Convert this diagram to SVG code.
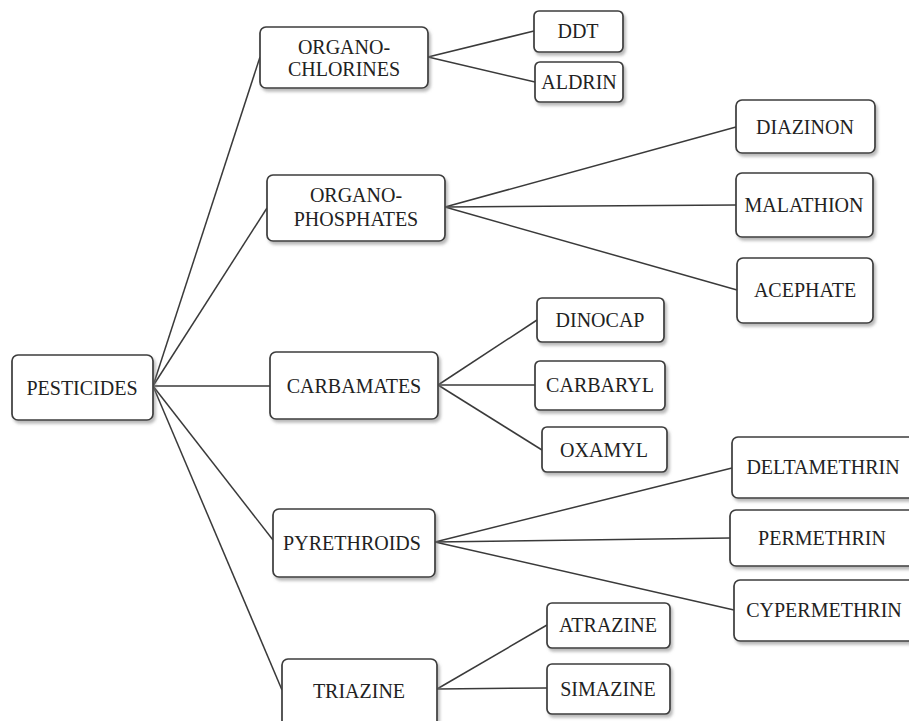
<svg xmlns="http://www.w3.org/2000/svg" width="909" height="721" viewBox="0 0 909 721">
<defs>
<filter id="sh" x="-10%" y="-10%" width="130%" height="140%">
<feDropShadow dx="2" dy="3" stdDeviation="1.5" flood-color="#808080" flood-opacity="0.55"/>
</filter>
</defs>
<style>
.box{fill:#ffffff;stroke:#3c3c3c;stroke-width:1.7;filter:url(#sh)}
.t{font-family:"Liberation Serif","Times New Roman",serif;font-size:20px;fill:#222;text-anchor:middle;dominant-baseline:central}
.c line{stroke:#3a3a3a;stroke-width:1.5;fill:none}
</style>
<rect width="909" height="721" fill="#ffffff"/>
<g class="c" id="connectors">
<line x1="153" y1="386" x2="260" y2="57"/>
<line x1="153" y1="386" x2="267" y2="208"/>
<line x1="153" y1="386" x2="270" y2="386"/>
<line x1="153" y1="386" x2="273" y2="540"/>
<line x1="153" y1="386" x2="282" y2="690"/>
<line x1="428" y1="57" x2="534" y2="31"/>
<line x1="428" y1="57" x2="535" y2="82"/>
<line x1="445" y1="207" x2="736" y2="127"/>
<line x1="445" y1="207" x2="736" y2="205"/>
<line x1="445" y1="207" x2="737" y2="290"/>
<line x1="438" y1="385" x2="537" y2="320"/>
<line x1="438" y1="385" x2="535" y2="385"/>
<line x1="438" y1="385" x2="542" y2="450"/>
<line x1="435" y1="542" x2="732" y2="468"/>
<line x1="435" y1="542" x2="730" y2="538"/>
<line x1="435" y1="542" x2="734" y2="610"/>
<line x1="437" y1="689" x2="547" y2="625"/>
<line x1="437" y1="689" x2="547" y2="688"/>
</g>
<g id="pesticides"><rect class="box" x="12" y="355" width="141" height="65" rx="6"/><text class="t" x="82" y="388">PESTICIDES</text></g>
<g id="organochlorines"><rect class="box" x="260" y="27" width="168" height="61" rx="6"/><text class="t" x="344" y="47">ORGANO-</text><text class="t" x="344" y="69">CHLORINES</text></g>
<g id="ddt"><rect class="box" x="534" y="11" width="89" height="41" rx="5"/><text class="t" x="578" y="31">DDT</text></g>
<g id="aldrin"><rect class="box" x="535" y="62" width="88" height="40" rx="5"/><text class="t" x="579" y="82">ALDRIN</text></g>
<g id="organophosphates"><rect class="box" x="267" y="175" width="178" height="66" rx="6"/><text class="t" x="356" y="195">ORGANO-</text><text class="t" x="356" y="219">PHOSPHATES</text></g>
<g id="diazinon"><rect class="box" x="736" y="100" width="139" height="53" rx="6"/><text class="t" x="805" y="127">DIAZINON</text></g>
<g id="malathion"><rect class="box" x="736" y="173" width="137" height="64" rx="6"/><text class="t" x="804" y="205">MALATHION</text></g>
<g id="acephate"><rect class="box" x="737" y="258" width="136" height="65" rx="6"/><text class="t" x="805" y="290">ACEPHATE</text></g>
<g id="carbamates"><rect class="box" x="270" y="352" width="168" height="67" rx="6"/><text class="t" x="354" y="386">CARBAMATES</text></g>
<g id="dinocap"><rect class="box" x="537" y="298" width="127" height="44" rx="5"/><text class="t" x="600" y="320">DINOCAP</text></g>
<g id="carbaryl"><rect class="box" x="535" y="361" width="130" height="49" rx="5"/><text class="t" x="600" y="385">CARBARYL</text></g>
<g id="oxamyl"><rect class="box" x="542" y="427" width="125" height="45" rx="5"/><text class="t" x="604" y="450">OXAMYL</text></g>
<g id="pyrethroids"><rect class="box" x="273" y="509" width="162" height="68" rx="6"/><text class="t" x="352" y="543">PYRETHROIDS</text></g>
<g id="deltamethrin"><rect class="box" x="732" y="437" width="190" height="61" rx="6"/><text class="t" x="823" y="467">DELTAMETHRIN</text></g>
<g id="permethrin"><rect class="box" x="730" y="510" width="190" height="56" rx="6"/><text class="t" x="822" y="538">PERMETHRIN</text></g>
<g id="cypermethrin"><rect class="box" x="734" y="580" width="190" height="61" rx="6"/><text class="t" x="824" y="610">CYPERMETHRIN</text></g>
<g id="triazine"><rect class="box" x="282" y="659" width="155" height="75" rx="6"/><text class="t" x="359" y="691">TRIAZINE</text></g>
<g id="atrazine"><rect class="box" x="547" y="603" width="123" height="45" rx="5"/><text class="t" x="608" y="625">ATRAZINE</text></g>
<g id="simazine"><rect class="box" x="547" y="664" width="123" height="50" rx="5"/><text class="t" x="608" y="689">SIMAZINE</text></g>
</svg>
